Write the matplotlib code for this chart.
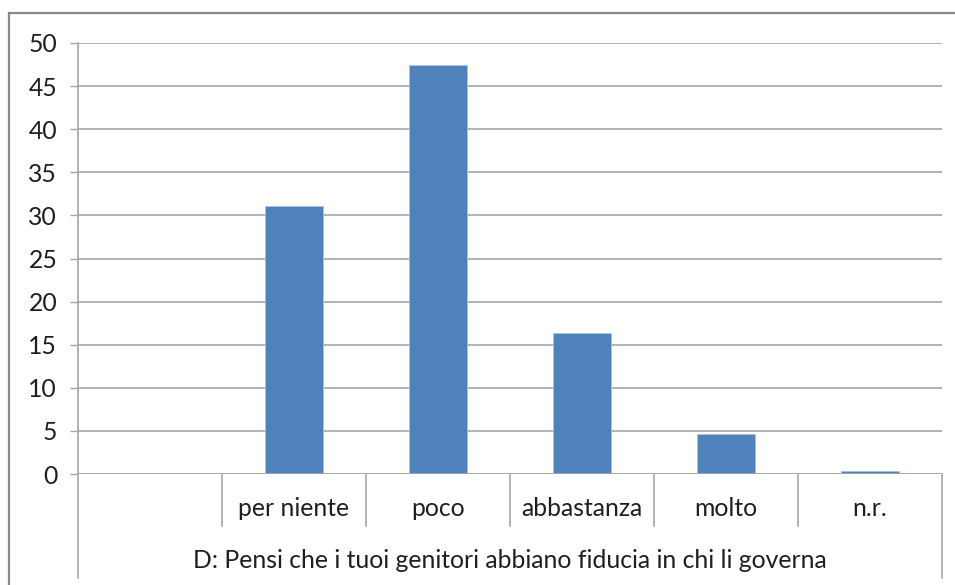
import numpy as np
import matplotlib.pyplot as plt
from matplotlib.lines import Line2D

categories = ['', 'per niente', 'poco', 'abbastanza', 'molto', 'n.r.']
values = [np.nan, 31.1, 47.5, 16.4, 4.6, 0.4]
group_label = 'D: Pensi che i tuoi genitori abbiano fiducia in chi li governa'
yticks = [0, 5, 10, 15, 20, 25, 30, 35, 40, 45, 50]

plt.rcParams['font.family'] = ['Lato', 'DejaVu Sans']
text_color = '#1f1f1f'
grid_color = '#a6a6a6'
fs = 17.8

fig = plt.figure(figsize=(9.55, 5.85), dpi=100)
ax = fig.add_axes([78 / 955, 111 / 585, 864 / 955, 431 / 585])

x = np.arange(len(categories))
ax.bar(x, values, width=0.4, color='#4f81bd', edgecolor='#a9c2e3', linewidth=0.6, zorder=3)

ax.set_xlim(-0.5, len(categories) - 0.5)
ax.set_ylim(0, 50)
ax.set_yticks(yticks)
ax.set_yticklabels([str(v) for v in yticks], fontsize=fs, color=text_color)
ax.tick_params(axis='y', length=6, width=1, color=grid_color, pad=9)
ax.set_xticks([])
ax.grid(axis='y', color=grid_color, linewidth=1.2, zorder=0)

for side in ['top', 'right', 'bottom']:
    ax.spines[side].set_visible(False)
ax.spines['left'].set_color(grid_color)
ax.spines['left'].set_linewidth(1.2)
ax.axhline(0, color=grid_color, linewidth=1.2, zorder=4)

# multi-level category axis
trans = ax.get_xaxis_transform()
h = 431.0
for b in x[1:] - 0.5:
    ax.plot([b, b], [0, -52 / h], transform=trans, color=grid_color, linewidth=1.2, clip_on=False)
for b in [x[0] - 0.5, x[-1] + 0.5]:
    ax.plot([b, b], [0, -104 / h], transform=trans, color=grid_color, linewidth=1.2, clip_on=False)
for xi, lab in zip(x, categories):
    ax.text(xi, -35 / h, lab, transform=trans, ha='center', va='center', fontsize=fs, color=text_color)
ax.text((x[0] + x[-1]) / 2, -86 / h, group_label, transform=trans, ha='center', va='center',
        fontsize=fs, color=text_color)

# chart frame (cropped on the right and bottom)
fig.add_artist(Line2D([9 / 955, 1], [1 - 13 / 585, 1 - 13 / 585], color='#888888', linewidth=1.6))
fig.add_artist(Line2D([9 / 955, 9 / 955], [0, 1 - 13 / 585], color='#888888', linewidth=1.6))

fig.savefig('out.png', dpi=100)
